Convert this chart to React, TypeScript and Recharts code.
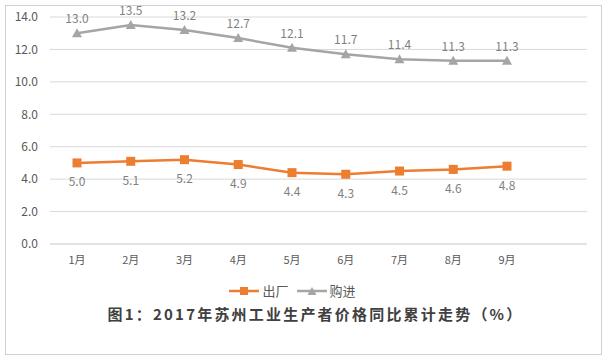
import React from "react";
import { LineChart, Line, XAxis, YAxis, CartesianGrid, LabelList } from "recharts";

const months = ["1月", "2月", "3月", "4月", "5月", "6月", "7月", "8月", "9月"];
const factory = [5.0, 5.1, 5.2, 4.9, 4.4, 4.3, 4.5, 4.6, 4.8];
const purchase = [13.0, 13.5, 13.2, 12.7, 12.1, 11.7, 11.4, 11.3, 11.3];
const yTicks = [0, 2, 4, 6, 8, 10, 12, 14];
const seriesNames = ["出厂", "购进"];
const title = "图1：2017年苏州工业生产者价格同比累计走势（%）";

const data = months.map((m, i) => ({ month: m, factory: factory[i], purchase: purchase[i] }));

const ORANGE = "#ED7D31";
const GREY = "#A5A5A5";
const FONT = "'Noto Sans CJK SC', 'Open Sans', sans-serif";

const LegendContent = () => (
  <div style={{ display: "flex", justifyContent: "center", alignItems: "center", fontFamily: FONT, fontSize: 13, color: "#595959" }}>
    <svg width={30} height={10} style={{ marginRight: 3 }}>
      <line x1={0} y1={5} x2={30} y2={5} stroke={ORANGE} strokeWidth={2.5} />
      <rect x={11} y={1} width={8} height={8} fill={ORANGE} />
    </svg>
    <span style={{ marginRight: 8 }}>{seriesNames[0]}</span>
    <svg width={30} height={10} style={{ marginRight: 3 }}>
      <line x1={0} y1={5} x2={30} y2={5} stroke={GREY} strokeWidth={2.5} />
      <polygon points="15,1 19.5,9 10.5,9" fill={GREY} />
    </svg>
    <span>{seriesNames[1]}</span>
  </div>
);

const Square = (props: any) => {
  const { cx, cy } = props;
  if (cx == null || cy == null || props.value == null) return null;
  return <rect x={cx - 4.5} y={cy - 4.5} width={9} height={9} fill={ORANGE} />;
};
const Tri = (props: any) => {
  const { cx, cy } = props;
  if (cx == null || cy == null || props.value == null) return null;
  return <polygon points={`${cx},${cy - 5} ${cx + 5},${cy + 4} ${cx - 5},${cy + 4}`} fill={GREY} />;
};

export default function App() {
  return (
    <div style={{ position: "absolute", left: 0, top: 0, width: 609, height: 361, background: "#fff" }}>
      <div style={{ position: "absolute", left: 5, top: 5, width: 597, height: 350, border: "1px solid #d0d0d0", boxSizing: "border-box" }} />
      <div style={{ position: "absolute", left: 0, top: 0 }}>
        <LineChart width={609} height={361} data={data} margin={{ top: 17, right: 22, left: 0, bottom: 87 }}>
          <CartesianGrid vertical={false} stroke="#D9D9D9" />
          <XAxis dataKey="month" height={30} stroke="#D9D9D9" tickLine={false} padding={{ left: 27, right: 80 }}
            tick={{ fill: "#595959", fontSize: 11, fontFamily: FONT }} tickMargin={6} />
          <YAxis width={50} domain={[0, 14]} ticks={yTicks} axisLine={false} tickLine={false}
            tickFormatter={(v: number) => v.toFixed(1)} tick={{ fill: "#595959", fontSize: 12, fontFamily: FONT }} tickMargin={6} />
          <Line dataKey="factory" name={seriesNames[0]} stroke={ORANGE} strokeWidth={2.5} dot={<Square />} isAnimationActive={false}>
            <LabelList dataKey="factory" position="bottom" offset={15} fill="#7F7F7F" fontSize={12} fontFamily={FONT}
              formatter={(v: any) => (v == null ? "" : Number(v).toFixed(1))} />
          </Line>
          <Line dataKey="purchase" name={seriesNames[1]} stroke={GREY} strokeWidth={2.5} dot={<Tri />} isAnimationActive={false}>
            <LabelList dataKey="purchase" position="top" offset={10} fill="#7F7F7F" fontSize={12} fontFamily={FONT}
              formatter={(v: any) => (v == null ? "" : Number(v).toFixed(1))} />
          </Line>
        </LineChart>
      </div>
      <div style={{ position: "absolute", top: 281, left: -12, width: 609 }}>
        <LegendContent />
      </div>
      <div style={{ position: "absolute", top: 303, left: 11, width: 609, textAlign: "center", fontFamily: FONT, fontWeight: "bold", fontSize: 15, letterSpacing: 2.2, color: "#404040" }}>
        {title}
      </div>
    </div>
  );
}
